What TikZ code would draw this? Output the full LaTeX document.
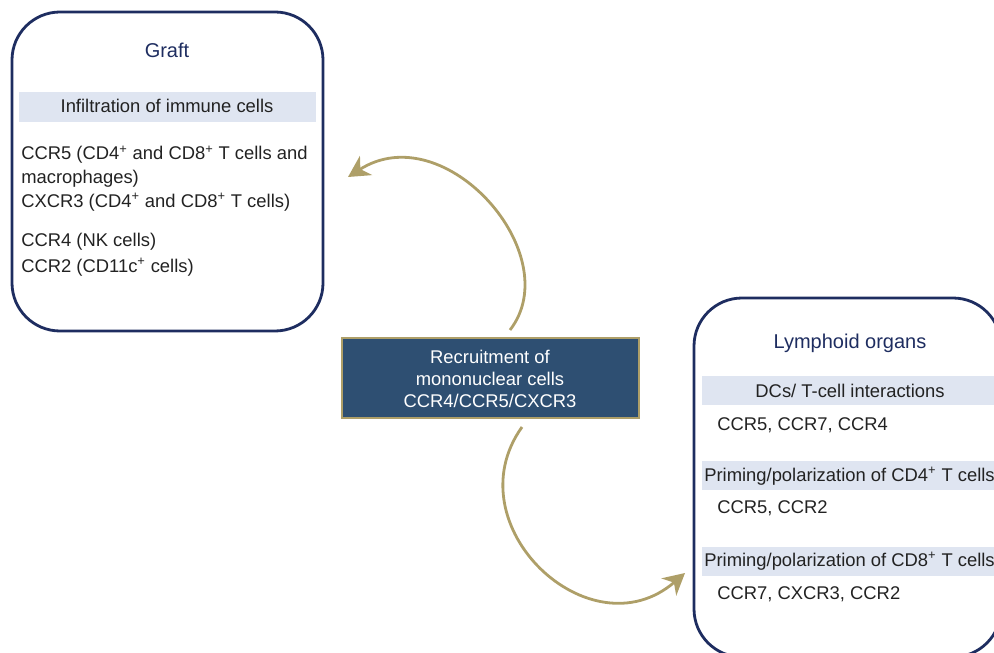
\documentclass[tikz,border=0pt]{standalone}
\usepackage{fontspec}
\setmainfont{Liberation Sans}
\usetikzlibrary{arrows.meta}
\definecolor{navy}{HTML}{1E2D60}
\definecolor{band}{HTML}{DFE5F1}
\definecolor{boxfill}{HTML}{2E4F72}
\definecolor{gold}{HTML}{AE9F68}
\definecolor{bodytxt}{HTML}{222222}
\tikzset{
  region/.style={draw=navy, line width=2.1pt, rounded corners=36pt},
  bandfill/.style={fill=band, draw=none},
  txtfont/.style={font=\fontsize{13.8}{16}\selectfont},
  title/.style={font=\fontsize{15}{18}\selectfont, text=navy, anchor=base, inner sep=0pt},
  bandtxt/.style={txtfont, text=bodytxt, anchor=base, inner sep=0pt},
  item/.style={txtfont, text=bodytxt, anchor=base west, inner sep=0pt},
  centerbox/.style={fill=boxfill, draw=gold, line width=1.8pt},
  centertxt/.style={txtfont, text=white, anchor=base, inner sep=0pt},
  flow/.style={draw=gold, line width=2.1pt, -{Stealth[length=16pt, width=17pt, inset=5pt]}}
}
\begin{document}
\begin{tikzpicture}[x=0.75pt, y=-0.75pt]
\useasboundingbox (0,0) rectangle (994,652);
\clip (0,0) rectangle (994,652);
% Graft box
\draw[region] (12,12) rectangle (323,331);
\fill[bandfill] (19,92) rectangle (316,122);
\node[title] (graftT) at (167,57.5) {Graft};
\node[bandtxt] (graftB) at (167,113) {Infiltration of immune cells};
\node[item] (g1) at (21,160) {CCR5 (CD4\textsuperscript{+} and CD8\textsuperscript{+} T cells and};
\node[item] (g2) at (21,184) {macrophages)};
\node[item] (g3) at (21,207) {CXCR3 (CD4\textsuperscript{+} and CD8\textsuperscript{+} T cells)};
\node[item] (g4) at (21,246) {CCR4 (NK cells)};
\node[item] (g5) at (21,272) {CCR2 (CD11c\textsuperscript{+} cells)};
% Center box
\draw[centerbox] (342,338) rectangle (639,418);
\node[centertxt] (c1) at (490,363) {Recruitment of};
\node[centertxt] (c2) at (490,385) {mononuclear cells};
\node[centertxt] (c3) at (490,407) {CCR4/CCR5/CXCR3};
% Lymphoid box
\draw[region] (694,298) rectangle (1001,657);
\fill[bandfill] (702,376) rectangle (1001,405);
\fill[bandfill] (702,461) rectangle (1001,490);
\fill[bandfill] (702,547) rectangle (1001,576);
\node[title] (lymT) at (850,348.5) {Lymphoid organs};
\node[bandtxt] (lymB1) at (850,397) {DCs/ T-cell interactions};
\node[item] (l1) at (717,430) {CCR5, CCR7, CCR4};
\node[item] (lymB2) at (704,481) {Priming/polarization of CD4\textsuperscript{+} T cells};
\node[item] (l2) at (717,513) {CCR5, CCR2};
\node[item] (lymB3) at (704,566) {Priming/polarization of CD8\textsuperscript{+} T cells};
\node[item] (l3) at (717,599) {CCR7, CXCR3, CCR2};
% Arrows
\coordinate (upS) at (510,330);
\coordinate (upE) at (348,177);
\coordinate (dnS) at (522,427);
\coordinate (dnE) at (685,573);
\draw[flow] (upS) .. controls (568,255) and (445,115) .. (upE);
\draw[flow] (dnS) .. controls (452,525) and (590,655) .. (dnE);
\end{tikzpicture}
\end{document}
